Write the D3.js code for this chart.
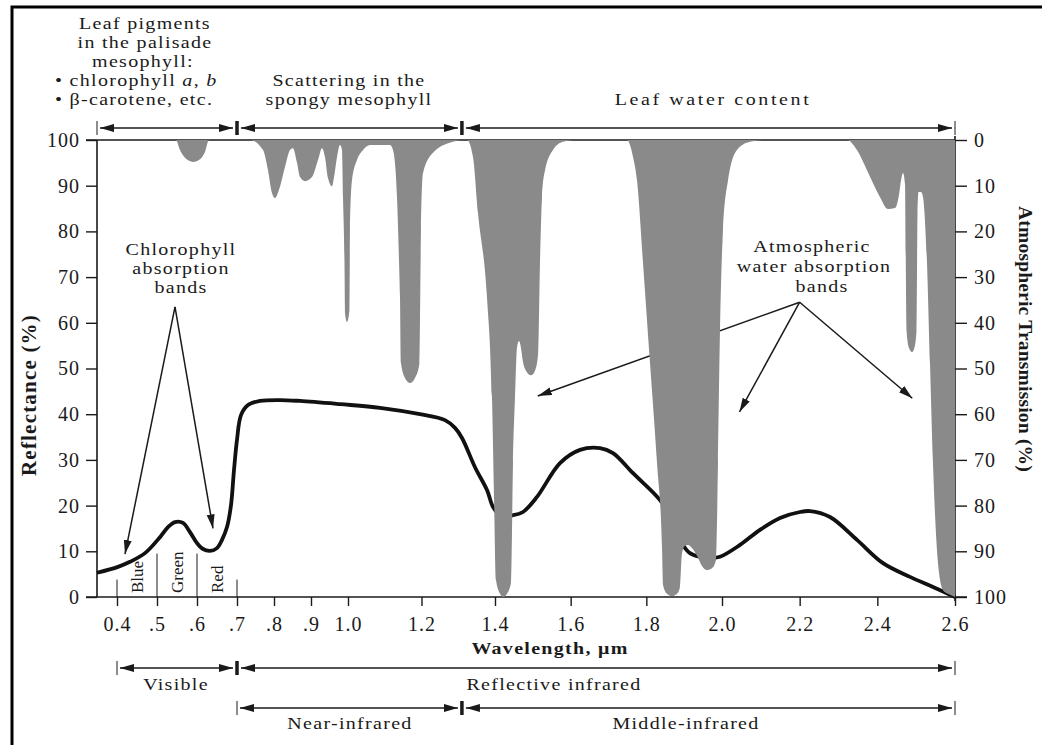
<!DOCTYPE html>
<html>
<head>
<meta charset="utf-8">
<script src="https://cdn.jsdelivr.net/npm/d3@7"></script>
<style>
body { margin: 0; background: #fff; }
svg { display: block; font-family: "Liberation Serif", "Times New Roman", serif; }
</style>
</head>
<body>
<svg id="chart" width="1042" height="745"></svg>
<script>
// reflectance of green vegetation (left axis, %)
var reflWave = [0.35, 0.4025, 0.4325, 0.47, 0.5075, 0.5275, 0.545, 0.565, 0.5825, 0.60, 0.615, 0.6325, 0.65,
    0.6625, 0.675, 0.685, 0.6925, 0.70, 0.7108, 0.7297, 0.7622, 0.8162, 0.8703, 0.9784, 1.0871, 1.1959, 1.2639,
    1.2912, 1.3102, 1.3456, 1.3782, 1.3946, 1.4132, 1.4476, 1.474, 1.511, 1.5718, 1.6247, 1.6775, 1.7119, 1.7648,
    1.8362, 1.8678, 1.8969, 1.9154, 1.9418, 1.9683, 1.9947, 2.0464, 2.0979, 2.1494, 2.2009, 2.2266, 2.2781,
    2.3476, 2.4146, 2.4841, 2.5433, 2.60];
var reflValue = [5.3, 6.6, 7.7, 9.6, 13.1, 15.3, 16.4, 16.2, 14.2, 11.8, 10.5, 10.1, 10.7,
    12.5, 15.3, 20.1, 27.8, 34.4, 39.8, 42.0, 42.9, 43.1, 42.9, 42.2, 41.4, 40.0, 38.7,
    37.0, 34.8, 28.4, 23.4, 19.7, 17.9, 17.9, 18.6, 21.9, 29.3, 32.2, 32.6, 31.5, 27.1,
    21.2, 16.8, 11.4, 9.6, 8.8, 8.5, 8.8, 11.4, 14.7, 17.3, 18.6, 18.8, 17.5,
    12.5, 7.4, 4.4, 2.2, 0];

// atmospheric absorption, read down from the top on the right axis (%)
var absWave = [0.35, 0.5475, 0.5575, 0.57, 0.59, 0.6075, 0.62, 0.63,
    0.7351, 0.7703, 0.7838, 0.7946, 0.8027, 0.8135, 0.8297, 0.8432, 0.8514, 0.8622, 0.8703, 0.8838, 0.9027,
    0.9189, 0.9297, 0.9378, 0.9459, 0.9568, 0.9622, 0.9703, 0.9784, 0.9838, 0.9865, 0.9905, 0.9919, 0.9973,
    1.0041, 1.0054, 1.0109, 1.0245, 1.0408, 1.0599, 1.1143, 1.1224, 1.1333, 1.1388, 1.1415, 1.1442, 1.1551,
    1.1687, 1.1823, 1.1946, 1.1986, 1.2041, 1.2313, 1.2857, 1.3102,
    1.3238, 1.3401, 1.3537, 1.3782, 1.3918, 1.3973, 1.4026, 1.4132, 1.4211, 1.4317, 1.4423, 1.4476, 1.4529,
    1.4581, 1.4634, 1.4687, 1.4727, 1.4819, 1.4952, 1.5057, 1.5137, 1.5189, 1.5242, 1.5322, 1.5533, 1.5797, 1.6167,
    1.7489, 1.7648, 1.7753, 1.7912, 1.8097, 1.8282, 1.8414, 1.8441, 1.8546, 1.8678, 1.881, 1.889, 1.8943,
    1.9022, 1.9101, 1.9207, 1.9339, 1.9471, 1.9603, 1.9736, 1.9841, 1.9894, 1.9947, 2.0026, 2.0155, 2.0386,
    2.0721, 2.1107,
    2.3219, 2.3476, 2.3734, 2.4069, 2.4275, 2.4455, 2.4558, 2.461, 2.4661, 2.4713, 2.4751, 2.4815, 2.4893,
    2.497, 2.5009, 2.5034, 2.506, 2.5124, 2.5176, 2.5279, 2.5356, 2.5433, 2.5562, 2.5691, 2.582, 2.60];
var absDepth = [0, 0, 2.2, 3.9, 4.8, 4.2, 2.6, 0,
    0, 2.2, 6.6, 11.6, 12.7, 10.9, 5.9, 2.2, 1.8, 5.0, 8.1, 9.0, 8.1,
    4.4, 1.8, 3.7, 8.3, 10.1, 8.1, 3.7, 1.1, 2.2, 12.5, 26.9, 37.9, 39.8,
    37.2, 19.7, 8.8, 4.4, 2.2, 1.1, 1.1, 2.2, 12.5, 26.3, 34.4, 48.8, 52.1,
    53.2, 52.1, 48.8, 19.7, 7.2, 2.8, 0.4, 0,
    0, 3.7, 16.0, 34.4, 56.2, 78.1, 96.3, 99.3, 100, 99.3, 96.9, 70.7, 56.2,
    45.5, 44.0, 45.5, 48.0, 50.5, 51.5, 50.5, 47.0, 26.9, 12.5, 6.6, 2.2, 0.4, 0,
    0, 3.7, 8.8, 26.9, 48.8, 70.7, 89.1, 97.4, 99.3, 99.8, 99.3, 97.8, 90.4,
    88.8, 88.6, 89.3, 91.0, 93.2, 94.1, 93.7, 91.9, 70.7, 41.6, 19.7, 8.8, 2.2,
    0.4, 0,
    0, 2.2, 6.6, 12.5, 15.1, 14.9, 12.0, 8.8, 7.2, 9.8, 41.6, 45.5, 46.4,
    44.9, 41.6, 16.0, 11.4, 11.4, 12.5, 26.9, 48.8, 70.7, 92.6, 98.5, 99.3, 100];

var xTicks = [0.4, 0.5, 0.6, 0.7, 0.8, 0.9, 1.0, 1.2, 1.4, 1.6, 1.8, 2.0, 2.2, 2.4, 2.6];
var xTickLabels = ["0.4", ".5", ".6", ".7", ".8", ".9", "1.0", "1.2", "1.4", "1.6", "1.8", "2.0", "2.2", "2.4", "2.6"];
var yTicks = [0, 10, 20, 30, 40, 50, 60, 70, 80, 90, 100];

// leaf structure regions (top) and spectral regions (bottom), in micrometres
var leafRegions = [0.35, 0.7, 1.31, 2.6];
var visibleRegion = [0.4, 0.7];
var reflectiveRegion = [0.7, 2.6];
var nearRegion = [0.7, 1.31];
var middleRegion = [1.31, 2.6];
var colourBands = [0.4, 0.5, 0.6, 0.7];
var colourNames = ["Blue", "Green", "Red"];

var svg = d3.select("#chart");
var ink = "#1a1a1a";

// the picture's wavelength axis is stretched in the visible part
var x = d3.scaleLinear()
    .domain([0.35, 0.7, 1.0, 1.4, 2.0, 2.6])
    .range([97, 237, 348, 495, 722, 955]);
var yL = d3.scaleLinear().domain([0, 100]).range([597, 140]);
var yR = d3.scaleLinear().domain([0, 100]).range([140, 597]);

var defs = svg.append("defs");
defs.append("marker")
    .attr("id", "head")
    .attr("markerUnits", "userSpaceOnUse")
    .attr("markerWidth", 16).attr("markerHeight", 10)
    .attr("refX", 14).attr("refY", 4)
    .attr("orient", "auto-start-reverse")
    .append("path")
    .attr("d", "M0,0 L14,4 L0,8 Z")
    .attr("fill", ink);

// outer frame of the figure (left and top edges show)
svg.append("rect")
    .attr("x", 12).attr("y", 7)
    .attr("width", 1060).attr("height", 780)
    .attr("fill", "none")
    .attr("stroke", "#000")
    .attr("stroke-width", 3);

// axes
function styleAxis(g, size) {
    g.attr("font-family", null).attr("font-size", size).style("letter-spacing", "1px");
    g.selectAll(".domain").remove();
    g.selectAll(".tick line").attr("stroke", ink).attr("stroke-width", 1.4);
    g.selectAll(".tick text").attr("fill", ink);
}

svg.append("g")
    .attr("transform", "translate(" + x(0.35) + ",0)")
    .call(d3.axisLeft(yL).tickValues(yTicks).tickSize(11).tickPadding(6))
    .call(styleAxis, 20);

svg.append("g")
    .attr("transform", "translate(" + x(2.6) + ",0)")
    .call(d3.axisRight(yR).tickValues(yTicks).tickSize(12).tickPadding(7))
    .call(styleAxis, 20);

svg.append("g")
    .attr("transform", "translate(0," + yL(0) + ")")
    .call(d3.axisBottom(x).tickValues(xTicks).tickFormat(function(d, i) { return xTickLabels[i]; })
        .tickSize(9).tickPadding(11))
    .call(styleAxis, 20);

// frame lines of the plot
var frame = svg.append("g").attr("stroke", ink).attr("stroke-width", 1.6);
frame.append("line").attr("x1", x(0.35) - 11).attr("x2", x(2.6) + 12).attr("y1", yL(0)).attr("y2", yL(0));
frame.append("line").attr("x1", x(0.35) - 11).attr("x2", x(2.6)).attr("y1", yL(100)).attr("y2", yL(100));
frame.append("line").attr("x1", x(0.35)).attr("x2", x(0.35)).attr("y1", yL(100)).attr("y2", yL(0));
frame.append("line").attr("x1", x(2.6)).attr("x2", x(2.6)).attr("y1", yR(0) - 4).attr("y2", yR(100) + 4);

// Blue / Green / Red bands
svg.append("g").selectAll("line")
    .data(colourBands)
    .join("line")
    .attr("x1", d => x(d)).attr("x2", d => x(d))
    .attr("y1", (d, i) => (i == 1 || i == 2) ? yL(9.5) : yL(3.8))
    .attr("y2", yL(0))
    .attr("stroke", ink).attr("stroke-width", 1);

svg.append("g").selectAll("text")
    .data(colourNames)
    .join("text")
    .attr("transform", (d, i) => "translate(" + (x(colourBands[i]) + x(colourBands[i + 1])) / 2 + "," + (yL(0) - 4) + ") rotate(-90)")
    .attr("dy", "0.35em")
    .attr("font-size", 17)
    .attr("fill", ink)
    .text(d => d);

// reflectance curve
var line = d3.line()
    .x((d, i) => x(reflWave[i]))
    .y(d => yL(d))
    .curve(d3.curveCatmullRom.alpha(0.5));

svg.append("path")
    .datum(reflValue)
    .attr("d", line)
    .attr("fill", "none")
    .attr("stroke", "#111")
    .attr("stroke-width", 3.8)
    .attr("stroke-linejoin", "round");

// annotation arrows
function arrow(g, x1, y1, x2, y2) {
    g.append("line")
        .attr("x1", x1).attr("y1", y1).attr("x2", x2).attr("y2", y2)
        .attr("stroke", ink).attr("stroke-width", 1.5)
        .attr("marker-end", "url(#head)");
}
var notes = svg.append("g");
arrow(notes, x(0.545), yL(63.5), x(0.42), yL(9.4));
arrow(notes, x(0.545), yL(63.5), x(0.64), yL(15));
arrow(notes, x(2.2), yL(64.5), x(1.513), yL(44));
arrow(notes, x(2.2), yL(64.5), x(2.045), yL(40.5));
arrow(notes, x(2.2), yL(64.5), x(2.49), yL(43.5));

// atmospheric absorption bands hang from the top
var area = d3.area()
    .x((d, i) => x(absWave[i]))
    .y0(yR(0))
    .y1(d => yR(d))
    .curve(d3.curveMonotoneX);

svg.append("path")
    .datum(absDepth)
    .attr("d", area)
    .attr("fill", "#8a8a8a");

// texts: the figure's type is wide and short, so squash it a little
function label(txt, px, py, anchor, weight) {
    return svg.append("text")
        .attr("transform", "translate(" + px + "," + py + ") scale(1,0.86)")
        .attr("text-anchor", anchor || "middle")
        .attr("font-size", 20)
        .attr("font-weight", weight || "normal")
        .attr("fill", ink)
        .style("letter-spacing", "1.3px")
        .text(txt);
}

label("Chlorophyll", 181, 255);
label("absorption", 181, 274);
label("bands", 181, 293);

label("Atmospheric", 812, 252);
label("water absorption", 814, 272);
label("bands", 822, 292);

label("Leaf pigments", 145, 29);
label("in the palisade", 145, 48);
label("mesophyll:", 143, 67);
var l4 = label("• chlorophyll ", 55, 86, "start");
l4.append("tspan").attr("font-style", "italic").text("a");
l4.append("tspan").text(", ");
l4.append("tspan").attr("font-style", "italic").text("b");
label("• β-carotene,  etc.", 55, 105, "start");

label("Scattering in the", 349, 86);
label("spongy mesophyll", 349, 105);
label("Leaf water content", 713, 105).style("letter-spacing", "2.6px");

label("Wavelength, μm", 550, 654, "middle", "bold");
label("Visible", 176, 690);
label("Reflective infrared", 554, 690);
label("Near-infrared", 350, 729);
label("Middle-infrared", 686, 729);

svg.append("text")
    .attr("transform", "translate(29,395) rotate(-90)")
    .attr("text-anchor", "middle").attr("dy", "0.35em")
    .attr("font-size", 21).attr("font-weight", "bold").attr("fill", ink)
    .style("letter-spacing", "1.2px")
    .text("Reflectance (%)");

svg.append("text")
    .attr("transform", "translate(1026,339) rotate(90)")
    .attr("text-anchor", "middle").attr("dy", "0.35em")
    .attr("font-size", 19.5).attr("font-weight", "bold").attr("fill", ink)
    .style("letter-spacing", "0.2px")
    .text("Atmospheric Transmission (%)");

// region brackets
function bracket(a, b, py, leftThick, rightThick) {
    var g = svg.append("g");
    g.append("line")
        .attr("x1", x(a) + (leftThick ? 4 : 3)).attr("x2", x(b) - (rightThick ? 4 : 3))
        .attr("y1", py).attr("y2", py)
        .attr("stroke", ink).attr("stroke-width", 1.5)
        .attr("marker-start", "url(#head)")
        .attr("marker-end", "url(#head)");
    [[a, leftThick], [b, rightThick]].forEach(function(e) {
        g.append("line")
            .attr("x1", x(e[0])).attr("x2", x(e[0]))
            .attr("y1", py - 7).attr("y2", py + 7)
            .attr("stroke", ink)
            .attr("stroke-width", e[1] ? 3 : 1);
    });
}
bracket(leafRegions[0], leafRegions[1], 128, false, true);
bracket(leafRegions[1], leafRegions[2], 128, true, true);
bracket(leafRegions[2], leafRegions[3], 128, true, false);
bracket(visibleRegion[0], visibleRegion[1], 668, false, true);
bracket(reflectiveRegion[0], reflectiveRegion[1], 668, true, false);
bracket(nearRegion[0], nearRegion[1], 708, false, true);
bracket(middleRegion[0], middleRegion[1], 708, true, false);
</script>
</body>
</html>
